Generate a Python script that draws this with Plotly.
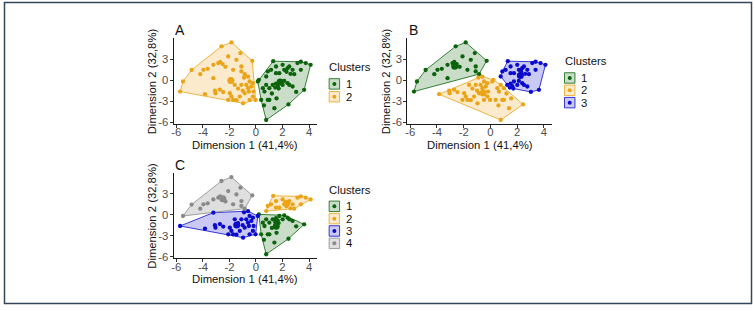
import numpy as np
import plotly.graph_objects as go

# ---------------- data (PCA coordinates of observations) ----------------
# group read from panel C: gray cluster
gray_x = [-5.50, -4.85, -4.20, -3.96, -3.64, -3.21, -2.84, -2.70, -2.52, -2.60,
          -1.85, -2.09, -1.47, -1.17, -1.72, -1.10, -0.85, -0.28, -1.10, -2.30]
gray_y = [-0.19, 1.45, 0.86, 1.48, 1.62, 2.19, 2.43, 2.60, 2.29, 4.82,
          5.38, 3.38, 2.90, 3.86, 1.48, 1.24, 0.86, 2.76, 1.95, 1.90]
# blue cluster (panel C)
blue_x = [-5.72, -3.21, -3.84, -3.09, -3.05, -2.72, -2.47, -2.09, -1.85, -1.72,
          -1.47, -1.22, -0.97, -1.10, -0.90, -0.60, -0.73, -0.60, -0.53, -0.48,
          -0.35, -0.23, -0.18, -0.03, 0.14, -1.60, -1.97, -0.85, -0.23, -0.48,
          -1.35, -1.00]
blue_y = [-1.62, 0.29, -2.00, -1.50, -1.86, -1.35, -1.70, -2.81, -2.33, -2.81,
          -2.85, -2.33, -3.29, -0.67, 0.35, 0.50, -0.67, -1.14, -1.62, -0.19,
          -0.90, -0.43, -1.62, -2.81, -0.19, -0.67, -1.86, -1.86, -2.33, -2.81,
          -1.20, -1.50]
# orange cluster (panel C)
orange_x = [0.77, 1.30, 1.14, 1.51, 1.51, 2.01, 2.13, 2.38, 2.51, 2.76,
            2.88, 3.13, 3.38, 3.38, 3.75, 4.12, 1.76, 0.89, 2.30, 2.60]
orange_y = [0.52, 2.70, 1.48, 1.95, 1.00, 2.19, 1.48, 1.71, 1.95, 1.48,
            0.86, 2.43, 2.62, 1.48, 2.43, 2.19, 1.00, 1.24, 1.20, 0.90]
# green cluster (panel C)
green_x = [0.22, 0.39, 0.77, 0.52, 0.64, 0.77, 0.89, 1.01, 1.01, 1.26,
           1.45, 1.51, 1.64, 1.71, 1.20, 1.76, 2.13, 2.38, 2.51, 2.76,
           3.03, 3.63, 1.39, 2.45, 2.01, 1.55, 0.60]
green_y = [0.05, -2.81, -5.67, -1.14, -1.62, -0.67, -2.81, -2.81, -1.14, -0.67,
           -1.05, -0.50, -0.85, -1.20, -1.90, -0.19, -0.10, -0.43, -0.67, -0.90,
           -1.67, -1.38, -4.00, -3.45, -0.67, -2.60, -3.60]

dim1 = gray_x + blue_x + orange_x + green_x
dim2 = gray_y + blue_y + orange_y + green_y

# cluster memberships for k = 4 (panel C), k = 3 (panel B), k = 2 (panel A)
k4 = [4] * 20 + [3] * 32 + [2] * 20 + [1] * 27
k3 = ([1] * 20
      + [1, 1] + [2] * 30
      + [3] * 20
      + [2, 2, 2, 2, 2, 2, 2, 2, 2, 3, 3, 3, 3, 3, 2, 3, 3, 3, 3, 3,
         3, 3, 2, 2, 3, 2, 2])
k2 = [2] * 20 + [2] * 24 + [1] + [2] * 7 + [1] * 20 + [1] * 27

cluster_names = ["1", "2", "3", "4"]
x_ticks = [-6, -4, -2, 0, 2, 4]
y_ticks = [-6, -3, 0, 3]
x_title = "Dimension 1 (41,4%)"
y_title = "Dimension 2 (32,8%)"
legend_title = "Clusters"
panel_labels = ["A", "B", "C"]

# ---------------- styling ----------------
W, H = 754, 310
COL = {1: "#0B640B", 2: "#EBA317", 3: "#0A0ACD", 4: "#8A8A8A"}
FILL = {1: "rgba(11,100,11,0.22)", 2: "rgba(235,163,23,0.22)",
        3: "rgba(10,10,205,0.22)", 4: "rgba(138,138,138,0.27)"}
FONT = "Liberation Sans, Arial, sans-serif"


def px(x):
    return x / W


def py(y):
    return 1 - y / H


def hull(points):
    pts = sorted(set(points))
    if len(pts) < 3:
        return pts

    def cross(o, a, b):
        return (a[0] - o[0]) * (b[1] - o[1]) - (a[1] - o[1]) * (b[0] - o[0])

    lower, upper = [], []
    for p in pts:
        while len(lower) >= 2 and cross(lower[-2], lower[-1], p) <= 0:
            lower.pop()
        lower.append(p)
    for p in reversed(pts):
        while len(upper) >= 2 and cross(upper[-2], upper[-1], p) <= 0:
            upper.pop()
        upper.append(p)
    return lower[:-1] + upper[:-1]


d1 = np.array(dim1)
d2 = np.array(dim2)
xr = [d1.min() - 0.05 * (d1.max() - d1.min()), d1.max() + 0.05 * (d1.max() - d1.min())]
yr = [d2.min() - 0.05 * (d2.max() - d2.min()), d2.max() + 0.05 * (d2.max() - d2.min())]

# panel pixel boxes: (x0, x1, ytop, ybottom), legend pos (x, title y, first key y, step)
panels = [
    dict(labels=k2, ax="", box=(172, 316, 39, 125.5), leg=(327, 68, 85, 13.0), lab=(172, 30)),
    dict(labels=k3, ax="2", box=(406.5, 551.5, 39, 125.5), leg=(563, 62, 79, 12.5), lab=(407, 30)),
    dict(labels=k4, ax="3", box=(172, 316, 175.5, 261.5), leg=(327, 192, 209, 12.5), lab=(172, 167)),
]

fig = go.Figure()
shapes = []
annotations = []

for i, p in enumerate(panels):
    lab = np.array(p["labels"])
    xa = "x" + p["ax"]
    ya = "y" + p["ax"]
    ks = sorted(set(p["labels"]))
    for k in ks:
        m = lab == k
        hx, hy = zip(*hull(list(zip(d1[m], d2[m]))))
        fig.add_trace(go.Scatter(
            x=list(hx) + [hx[0]], y=list(hy) + [hy[0]], mode="lines",
            fill="toself", fillcolor=FILL[k], line=dict(color=COL[k], width=0.8),
            xaxis=xa, yaxis=ya, showlegend=False, hoverinfo="skip"))
    for k in ks:
        m = lab == k
        fig.add_trace(go.Scatter(
            x=d1[m], y=d2[m], mode="markers",
            marker=dict(color=COL[k], size=4.3, line=dict(width=0)),
            xaxis=xa, yaxis=ya, showlegend=False))
        fig.add_trace(go.Scatter(
            x=[d1[m].mean()], y=[d2[m].mean()], mode="markers",
            marker=dict(color=COL[k], size=7, line=dict(width=0)),
            xaxis=xa, yaxis=ya, showlegend=False))

    x0, x1, yt, yb = p["box"]
    axis_common = dict(showgrid=False, zeroline=False, showline=True, linecolor="#1a1a1a",
                       linewidth=1, ticks="outside", ticklen=3, tickwidth=1, tickcolor="#333333",
                       tickfont=dict(family=FONT, size=11.3, color="#4D4D4D"))
    fig.update_layout(**{
        "xaxis" + p["ax"]: dict(domain=[px(x0), px(x1)], range=xr, anchor=ya,
                                tickmode="array", tickvals=x_ticks, ticklabelstandoff=-5,
                                ticktext=[str(t) for t in x_ticks], **axis_common),
        "yaxis" + p["ax"]: dict(domain=[py(yb), py(yt)], range=yr, anchor=xa,
                                tickmode="array", tickvals=y_ticks, ticklabelstandoff=-1,
                                ticktext=[str(t) for t in y_ticks], **axis_common),
    })

    # axis titles and panel label
    annotations.append(dict(x=px((x0 + x1) / 2), y=py(yb + 21.5), xref="paper", yref="paper",
                            text=x_title, showarrow=False, xanchor="center", yanchor="middle",
                            font=dict(family=FONT, size=11.3, color="#111111")))
    annotations.append(dict(x=px(x0 - 21.5), y=py((yt + yb) / 2), xref="paper", yref="paper",
                            text=y_title, showarrow=False, textangle=-90,
                            xanchor="center", yanchor="middle",
                            font=dict(family=FONT, size=11.3, color="#111111")))
    lx, ly = p["lab"]
    annotations.append(dict(x=px(lx - 1), y=py(ly), xref="paper", yref="paper",
                            text=panel_labels[i], showarrow=False, xanchor="left", yanchor="middle",
                            font=dict(family=FONT, size=14, color="#111111")))

    # legend
    gx, gty, gky, step = p["leg"]
    annotations.append(dict(x=px(gx - 1), y=py(gty), xref="paper", yref="paper",
                            text=legend_title, showarrow=False, xanchor="left", yanchor="middle",
                            font=dict(family=FONT, size=11.3, color="#111111")))
    for j, k in enumerate(ks):
        cy = gky + j * step
        shapes.append(dict(type="rect", xref="paper", yref="paper",
                           x0=px(gx + 1), x1=px(gx + 11.5), y0=py(cy + 5.3), y1=py(cy - 5.3),
                           fillcolor=FILL[k], line=dict(color=COL[k], width=0.8)))
        shapes.append(dict(type="circle", xref="paper", yref="paper",
                           xsizemode="pixel", ysizemode="pixel",
                           xanchor=px(gx + 6.25), yanchor=py(cy),
                           x0=-2, x1=2, y0=-2, y1=2,
                           fillcolor=COL[k], line=dict(width=0)))
        annotations.append(dict(x=px(gx + 16), y=py(cy), xref="paper", yref="paper",
                                text=cluster_names[k - 1], showarrow=False,
                                xanchor="left", yanchor="middle",
                                font=dict(family=FONT, size=11.3, color="#111111")))

# outer frame
shapes.append(dict(type="rect", xref="paper", yref="paper",
                   x0=px(2.5), x1=px(751.5), y0=py(307.5), y1=py(2.5),
                   line=dict(color="#33465A", width=1.5), fillcolor="rgba(0,0,0,0)"))

fig.update_layout(width=W, height=H, margin=dict(l=0, r=0, t=0, b=0),
                  paper_bgcolor="white", plot_bgcolor="white",
                  shapes=shapes, annotations=annotations, showlegend=False,
                  font=dict(family=FONT))

fig.write_html("out.html")
